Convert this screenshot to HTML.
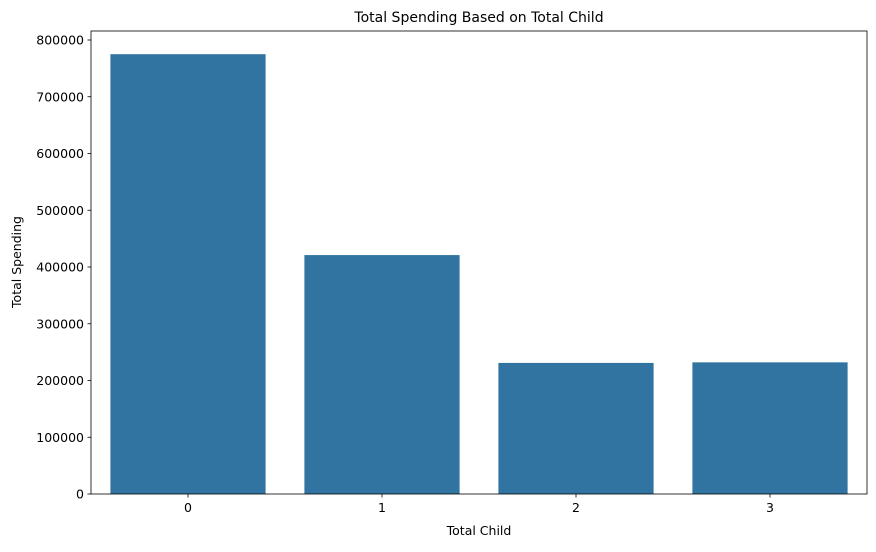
<!DOCTYPE html>
<html><head><meta charset="utf-8"><style>
body{margin:0;background:#fff;font-family:"Liberation Sans","DejaVu Sans",sans-serif;}
svg text{font-family:"DejaVu Sans","Liberation Sans",sans-serif;}
</style></head><body>
<svg id="chart" width="876" height="547">
<text x="479" y="22" font-size="14" text-anchor="middle" fill="#000">Total Spending Based on Total Child</text>
<text x="479" y="535" font-size="12.5" text-anchor="middle">Total Child</text>
<text transform="translate(21,262) rotate(-90)" font-size="12.5" text-anchor="middle">Total Spending</text>
<g id="bars"></g><g id="xt"></g><g id="yt"></g>
<rect x="91" y="31" width="776" height="463" fill="none" stroke="#000" stroke-width="0.8"/>
</svg>
<script>
const categories = ["0","1","2","3"];
const values = [775000, 421000, 231000, 232000];
const yTicks = [0,100000,200000,300000,400000,500000,600000,700000,800000];
const L=91,R=867,B=494,T=31;
const step=(R-L)/categories.length;
const xc=i=>L+step*(i+0.5);
const y=v=>B-v*(454/800000);
const ns="http://www.w3.org/2000/svg";
function mk(t,a,p){const e=document.createElementNS(ns,t);for(const k in a)e.setAttribute(k,a[k]);p.appendChild(e);return e;}
const bars=document.getElementById('bars'),xt=document.getElementById('xt'),yt=document.getElementById('yt');
categories.forEach((c,i)=>{
 const w=step*0.8;
 const r=mk('rect',{x:xc(i)-w/2,y:y(values[i]),width:w,height:B-y(values[i]),fill:'#3274a1'},bars);
 
 
 mk('line',{x1:xc(i),x2:xc(i),y1:B,y2:B+3.5,stroke:'#000','stroke-width':0.8},xt);
 const t=mk('text',{x:xc(i),y:B+18,'font-size':12.5,'text-anchor':'middle'},xt);t.textContent=c;
 
 
});
yTicks.forEach(v=>{
 mk('line',{x1:L-3.5,x2:L,y1:y(v),y2:y(v),stroke:'#000','stroke-width':0.8},yt);
 const t=mk('text',{x:L-7,y:y(v)+4.5,'font-size':12.5,'text-anchor':'end'},yt);t.textContent=v;
 
 
});
</script>
</body></html>
